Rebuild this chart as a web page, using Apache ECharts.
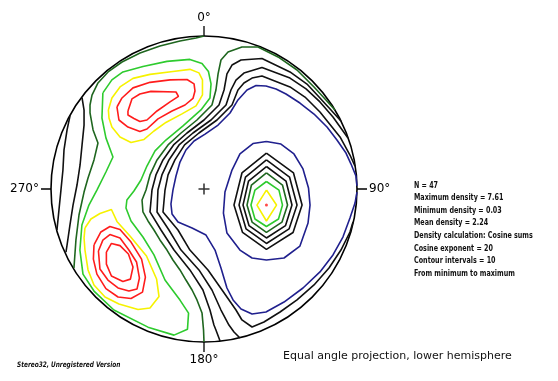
<!DOCTYPE html>
<html>
<head>
<meta charset="utf-8">
<script src="https://cdn.jsdelivr.net/npm/echarts@6/dist/echarts.min.js"></script>
<style>
  html, body { margin: 0; padding: 0; background: #ffffff; }
  #chart { width: 558px; height: 381px; }
</style>
</head>
<body>
<div id="chart"></div>
<script>
// Stereonet density contours, equal angle net, lower hemisphere.
// Coordinates are net units: x east, y north, primitive circle radius = 100.

const directionLabels = ['0°', '90°', '180°', '270°'];

const statsLines = [
  'N = 47',
  'Maximum density = 7.61',
  'Minimum density = 0.03',
  'Mean density = 2.24',
  'Density calculation: Cosine sums',
  'Cosine exponent = 20',
  'Contour intervals = 10',
  'From minimum to maximum'
];

// ---- contours that run from the primitive back to the primitive ----
const westL3 = [[-87.6,47.7],[-89.5,38.6],[-91.5,25.5],[-92.2,12.4],[-93.5,-0.7],[-94.8,-13.7],[-96.1,-26.8]];
const westL4 = [[-79.7,59.5],[-78.4,51.6],[-78.4,41.8],[-79.7,28.8],[-81,15.7],[-83,2.6],[-85.6,-10.5],[-87.6,-23.5],[-89.5,-36.6],[-90.2,-41.2]];
const westL5 = [[0,100],[-5.2,98.7],[-15.7,96.7],[-28.8,93.5],[-41.8,88.9],[-53.6,83.0],[-62.7,76.5],[-69.3,69.3],[-73.2,61.4],[-74.5,54.9],[-74.5,49.7],[-72.5,38.6],[-69.3,30.1],[-71.9,19.0],[-75.8,7.2],[-78.4,-2.0],[-81.7,-17.0],[-83.7,-33.3],[-85.0,-51.6]];

const eastL5 = [[0,-100],[-0.3,-92.2],[-1.3,-81.0],[-4.6,-72.5],[-7.8,-66.0],[-11.8,-59.5],[-15.7,-52.9],[-20.3,-46.4],[-24.2,-39.9],[-28.8,-33.3],[-32.7,-26.8],[-36.6,-20.9],[-39.9,-15.0],[-40.5,-7.2],[-37.9,-0.7],[-35.3,9.2],[-30.7,19.0],[-23.5,28.8],[-15.0,36.6],[-4.6,45.1],[5.2,54.9],[7.8,64.7],[9.2,75.2],[11.1,84.3],[15.7,89.5],[24.8,92.8],[35.3,92.8],[48.4,86.3],[60.8,77.8],[71.9,66.7],[79.7,58.2],[85.6,51.6]];
const eastL4 = [[10.5,-99.3],[7.8,-92.2],[6.5,-88.9],[3.9,-79.1],[-0.7,-66.0],[-9.2,-52.9],[-19.6,-39.9],[-28.1,-26.8],[-35.3,-15.0],[-34.0,-0.7],[-31.4,9.2],[-26.8,19.0],[-19.9,28.8],[-11.1,36.6],[0,45.1],[9.8,54.9],[13.1,64.7],[15.0,75.2],[18.3,81.0],[24.2,84.3],[37.9,85.3],[56.2,76.5],[67.3,68.6],[75.8,59.5],[83.0,51.6],[89.5,44.4]];
const eastL3 = [[23.5,-97.4],[19.6,-93.5],[16.3,-88.9],[11.1,-79.1],[5.2,-66.0],[-3.3,-52.9],[-15.0,-39.9],[-22.9,-26.8],[-30.7,-15.0],[-30.1,-0.7],[-27.5,9.2],[-22.9,19.0],[-16.3,28.8],[-7.2,36.6],[4.6,45.1],[14.4,54.9],[17.6,64.7],[20.9,71.2],[26.1,75.8],[37.9,79.4],[56.2,72.5],[66.7,65.4],[75.8,56.9],[84.3,47.1],[94.1,33.3]];
const eastL2 = [[97.4,-21.6],[95.4,-28.1],[89.5,-39.9],[81.7,-51.6],[71.9,-62.7],[60.8,-72.5],[49.7,-80.4],[39.2,-86.9],[31.4,-90.2],[24.8,-85.6],[20.9,-79.1],[11.8,-66.0],[2.6,-52.9],[-9.2,-39.9],[-17.0,-26.8],[-26.8,-15.0],[-25.5,-0.7],[-23.5,9.2],[-19.0,19.0],[-12.7,28.8],[-3.3,36.6],[8.5,45.1],[18.3,54.9],[22.2,64.7],[26.1,69.3],[31.4,72.5],[37.9,73.9],[56.2,66.7],[66.0,60.1],[75.8,50.3],[88.9,34.0],[95.4,22.2],[98.7,15.0]];
const eastL1 = [[100,2.0],[99.3,8.5],[96.1,16.3],[92.8,23.5],[86.9,32.0],[80.4,40.5],[71.9,49.0],[62.7,56.2],[53.6,62.1],[47.1,65.4],[40.5,67.3],[34.0,67.6],[28.1,64.7],[22.2,58.2],[17.0,49.7],[9.2,41.8],[0.7,35.9],[-6.5,31.4],[-11.8,25.5],[-15.7,17.6],[-18.3,8.5],[-20.3,-0.7],[-21.6,-9.8],[-20.9,-16.3],[-17.0,-21.6],[-7.8,-25.5],[1.3,-30.1],[7.2,-39.9],[11.1,-51.6],[15.0,-64.7],[19.0,-72.5],[24.2,-78.4],[31.4,-81.7],[40.5,-80.4],[52.3,-73.9],[64.7,-64.7],[75.8,-54.2],[84.3,-43.1],[90.8,-31.4],[95.4,-19.0],[98.7,-9.2],[100,-2.0]];

// ---- closed contours ----
const bandL6 = [[-66.1,62.8],[-60.2,71.3],[-53.0,76.5],[-39.9,80.1],[-24.2,83.4],[-9.2,84.7],[-1.3,82.1],[2.9,76.8],[4.6,68.7],[3.9,59.5],[-2.0,51.7],[-13.7,41.2],[-24.9,32.0],[-32.0,24.9],[-37.3,15.0],[-41.2,5.9],[-45.8,-1.3],[-50.4,-7.2],[-51.0,-12.4],[-47.7,-20.9],[-39.9,-31.4],[-32.7,-43.1],[-25.5,-59.5],[-15.7,-72.6],[-10.1,-81.1],[-10.8,-91.6],[-19.6,-95.5],[-36.6,-90.3],[-58.9,-79.1],[-71.9,-66.7],[-79.1,-55.6],[-81.1,-39.9],[-79.8,-23.5],[-75.2,-10.5],[-70.0,-0.7],[-64.1,11.1],[-59.5,20.9],[-64.1,33.4],[-66.7,46.4]];

const nwL7 = [[-62.5,51.7],[-60.2,59.5],[-54.9,66.7],[-46.4,72.3],[-35.3,74.9],[-20.3,76.8],[-9.2,78.2],[-3.3,75.9],[-1.0,71.3],[-1.0,61.5],[-5.2,54.3],[-14.4,49.1],[-24.9,43.5],[-32.7,37.9],[-39.2,32.4],[-47.7,30.4],[-54.9,34.0],[-60.2,40.5],[-62.1,46.4]];
const nwL8 = [[-56.9,53.6],[-53.6,59.5],[-46.4,66.1],[-35.3,69.7],[-22.2,71.3],[-11.1,71.6],[-6.5,68.7],[-5.9,64.1],[-7.2,59.2],[-12.4,54.9],[-20.9,51.0],[-30.1,45.8],[-37.3,39.2],[-41.9,37.6],[-49.7,40.5],[-55.6,45.1]];
const nwL9 = [[-49.7,51.0],[-47.1,58.9],[-41.9,62.1],[-34.7,63.8],[-18.3,63.4],[-16.7,60.5],[-22.2,56.9],[-30.7,51.0],[-37.3,45.1],[-41.9,44.1],[-45.8,46.1],[-49.7,48.4]];

const swL7 = [[-77.8,-25.5],[-73.9,-19.6],[-68.0,-16.0],[-60.5,-13.4],[-56.9,-21.2],[-48.4,-30.7],[-37.6,-43.8],[-31.0,-58.8],[-29.4,-70.3],[-35.3,-77.8],[-43.1,-78.8],[-55.6,-75.2],[-64.7,-70.6],[-71.9,-62.7],[-75.8,-52.9],[-77.8,-39.9],[-78.4,-32.0]];
const swL8 = [[-71.9,-36.6],[-67.4,-28.1],[-61.5,-24.5],[-54.9,-26.5],[-47.7,-34.7],[-40.8,-45.8],[-38.3,-57.6],[-40.2,-67.4],[-47.7,-71.6],[-56.2,-70.6],[-64.1,-65.1],[-70.0,-55.6],[-72.3,-45.8]];
const swL9 = [[-69.0,-40.5],[-66.1,-33.4],[-61.5,-29.8],[-54.9,-32.0],[-49.1,-39.9],[-44.1,-47.7],[-42.2,-58.2],[-43.8,-65.4],[-49.1,-66.7],[-56.2,-64.7],[-62.8,-59.5],[-68.0,-52.3]];
const swL10 = [[-63.8,-41.2],[-60.5,-35.6],[-54.9,-37.0],[-49.4,-42.5],[-46.4,-51.0],[-48.1,-58.9],[-53.0,-60.5],[-60.5,-56.9],[-63.8,-49.1]];

const eL1 = [[40.8,31.0],[50.3,29.4],[58.8,22.9],[64.7,13.1],[68.3,0.7],[69.3,-10.5],[68.0,-22.2],[62.7,-37.3],[52.3,-45.1],[40.8,-46.4],[31.4,-45.1],[23.5,-39.9],[15.0,-28.8],[12.7,-15.7],[13.7,-2.0],[18.3,12.4],[23.5,22.9],[32.0,29.7]];
const eL2 = [[40.8,23.5],[58.5,10.5],[64.1,-10.5],[58.2,-28.4],[40.8,-39.5],[25.2,-28.4],[19.6,-10.5],[24.8,10.5]];
const eL3 = [[40.8,19.0],[55.9,7.8],[60.8,-10.5],[55.6,-26.1],[40.8,-35.6],[27.5,-26.1],[22.9,-10.5],[27.1,7.8]];
const eL4 = [[40.8,14.7],[53.6,5.2],[57.5,-10.5],[53.3,-23.9],[40.8,-32.0],[29.4,-23.9],[25.5,-10.5],[29.1,5.2]];
const eL5 = [[40.8,10.5],[51.3,2.6],[54.6,-10.5],[51.0,-21.6],[40.8,-28.4],[31.4,-21.6],[28.1,-10.5],[31.0,2.6]];
const eL6 = [[40.8,4.9],[49.0,-0.7],[51.3,-10.5],[48.7,-19.6],[40.8,-24.5],[33.3,-19.6],[30.7,-10.5],[33.3,-0.7]];
const eL7 = [[40.8,-0.7],[47.4,-10.5],[40.8,-20.9],[34.6,-10.5]];
const eastPeak = [[40.8,-10.5]];
const netCentre = [[0,0]];

const COL = {
  black: '#111111',
  darkGreen: '#1f661f',
  green: '#2ecb2e',
  yellow: '#f6f200',
  red: '#ff1c1c',
  blue: '#20208e'
};

function contour(points, color, closed) {
  const data = closed ? points.concat([points[0]]) : points;
  return {
    type: 'line',
    data: data,
    showSymbol: false,
    silent: true,
    smooth: false,
    lineStyle: { color: color, width: 1.6 },
    z: 3
  };
}

const series = [
  contour(westL3, COL.black, false),
  contour(westL4, COL.black, false),
  contour(westL5, COL.darkGreen, false),
  contour(eastL5, COL.darkGreen, false),
  contour(eastL4, COL.black, false),
  contour(eastL3, COL.black, false),
  contour(eastL2, COL.black, false),
  contour(eastL1, COL.blue, false),
  contour(bandL6, COL.green, true),
  contour(nwL7, COL.yellow, true),
  contour(nwL8, COL.red, true),
  contour(nwL9, COL.red, true),
  contour(swL7, COL.yellow, true),
  contour(swL8, COL.red, true),
  contour(swL9, COL.red, true),
  contour(swL10, COL.red, true),
  contour(eL1, COL.blue, true),
  contour(eL2, COL.black, true),
  contour(eL3, COL.black, true),
  contour(eL4, COL.black, true),
  contour(eL5, COL.darkGreen, true),
  contour(eL6, COL.green, true),
  contour(eL7, COL.yellow, true),
  {
    type: 'scatter', data: eastPeak, symbol: 'circle', symbolSize: 3,
    itemStyle: { color: COL.red }, silent: true, z: 4
  },
  {
    type: 'scatter', data: netCentre, silent: true, z: 4,
    symbol: 'path://M4.3,0H5.7V4.3H10V5.7H5.7V10H4.3V5.7H0V4.3H4.3Z',
    symbolSize: 11, itemStyle: { color: '#000000' }
  }
];

const chart = echarts.init(document.getElementById('chart'), null, { renderer: 'canvas' });
chart.setOption({
  animation: false,
  backgroundColor: '#ffffff',
  grid: { left: 51, top: 36, width: 306, height: 306 },
  xAxis: { type: 'value', min: -100, max: 100, show: false },
  yAxis: { type: 'value', min: -100, max: 100, show: false },
  polar: { center: [204, 189], radius: 153 },
  radiusAxis: { show: false, min: 0, max: 100 },
  angleAxis: {
    type: 'value', min: 0, max: 360, interval: 90,
    startAngle: 90, clockwise: true,
    axisLine: { show: true, lineStyle: { color: '#000000', width: 1.6 } },
    axisTick: { show: true, length: 10, lineStyle: { color: '#000000', width: 1.3 } },
    splitLine: { show: false },
    axisLabel: {
      show: true, margin: 12, color: '#000000',
      fontFamily: 'DejaVu Sans', fontSize: 12,
      formatter: function (v) { return v >= 360 ? '' : directionLabels[Math.round(v / 90)]; }
    }
  },
  graphic: [
    {
      type: 'text', x: 414, y: 179, scaleX: 0.79,
      style: {
        text: statsLines.join('\n'), fill: '#111111',
        font: 'bold 9px "DejaVu Sans Condensed", sans-serif',
        lineHeight: 12.6, verticalAlign: 'top'
      }
    },
    {
      type: 'text', left: 283, top: 351,
      style: {
        text: 'Equal angle projection, lower hemisphere', fill: '#111111',
        font: '11px "DejaVu Sans", sans-serif'
      }
    },
    {
      type: 'text', x: 17, y: 361, scaleX: 0.86,
      style: {
        text: 'Stereo32, Unregistered Version', fill: '#111111',
        font: 'italic bold 7.5px "DejaVu Sans Condensed", sans-serif',
        verticalAlign: 'top'
      }
    }
  ],
  series: series
});
</script>
</body>
</html>
